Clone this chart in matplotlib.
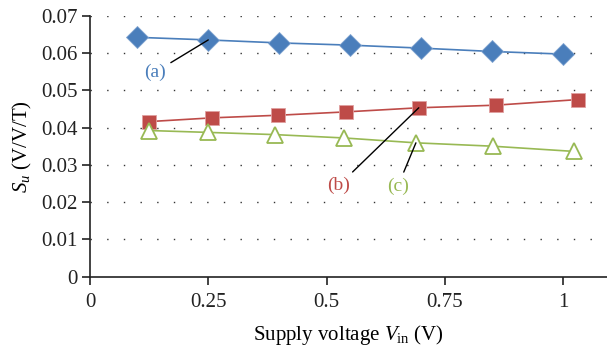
import numpy as np
import matplotlib
matplotlib.use('Agg')
import matplotlib.pyplot as plt

# Series (a): diamonds
xa = [0.10, 0.25, 0.40, 0.55, 0.70, 0.85, 1.00]
ya = [0.0642, 0.0635, 0.0627, 0.0621, 0.0613, 0.0604, 0.0597]
# Series (b): squares
xb = [0.125, 0.258, 0.398, 0.541, 0.695, 0.858, 1.031]
yb = [0.0416, 0.0426, 0.0433, 0.0442, 0.0453, 0.0460, 0.0475]
# Series (c): open triangles
xc = [0.125, 0.25, 0.392, 0.538, 0.689, 0.851, 1.023]
yc = [0.0392, 0.0387, 0.0381, 0.0372, 0.0359, 0.0350, 0.0336]

xticks = [0, 0.25, 0.5, 0.75, 1]
xticklabels = ['0', '0.25', '0.5', '0.75', '1']
yticks = [0, 0.01, 0.02, 0.03, 0.04, 0.05, 0.06, 0.07]
yticklabels = ['0', '0.01', '0.02', '0.03', '0.04', '0.05', '0.06', '0.07']

blue = '#4A7EBB'
red = '#BE4B48'
green = '#98B954'

plt.rcParams['font.family'] = 'Liberation Serif'
plt.rcParams['mathtext.fontset'] = 'custom'
plt.rcParams['mathtext.rm'] = 'Liberation Serif'
plt.rcParams['mathtext.it'] = 'Liberation Serif:italic'

fig = plt.figure(figsize=(6.07, 3.51), dpi=100)
ax = fig.add_axes([0.1483, 0.2117, 0.8517, 0.7436])

# dotted horizontal grid
for y in yticks[1:]:
    ax.axhline(y, color='#333333', linewidth=1.0, linestyle=(0, (1, 11)), zorder=0)

ax.plot(xa, ya, color=blue, linewidth=1.2, marker='D', markersize=11,
        markerfacecolor=blue, markeredgecolor='#7fa3d0', markeredgewidth=0.6, zorder=3)
ax.plot(xb, yb, color=red, linewidth=1.2, marker='s', markersize=10,
        markerfacecolor=red, markeredgecolor='#e0a0a0', markeredgewidth=0.6, zorder=3)
ax.plot(xc, yc, color=green, linewidth=1.2, marker='^', markersize=11,
        markerfacecolor='white', markeredgecolor=green, markeredgewidth=1.3, zorder=3)

arrow = dict(arrowstyle='-', color='black', linewidth=1.0, shrinkA=2, shrinkB=0)
ax.annotate('(a)', xy=(xa[1], ya[1]), xytext=(0.137, 0.0548), color=blue,
            fontsize=14, ha='center', va='center', arrowprops=arrow, zorder=4)
ax.annotate('(b)', xy=(xb[4], yb[4]), xytext=(0.526, 0.0245), color=red,
            fontsize=14, ha='center', va='center', arrowprops=arrow, zorder=4)
ax.annotate('(c)', xy=(xc[4], yc[4]), xytext=(0.651, 0.0243), color=green,
            fontsize=14, ha='center', va='center', arrowprops=arrow, zorder=4)

ax.set_xlim(0, 1.093)
ax.set_ylim(0, 0.07)
ax.set_xticks(xticks)
ax.set_xticklabels(xticklabels)
ax.set_yticks(yticks)
ax.set_yticklabels(yticklabels)
ax.tick_params(axis='both', direction='out', length=6, width=1.2, labelsize=15,
               colors='#222222')
ax.tick_params(axis='x', pad=6)
ax.tick_params(axis='y', pad=3)

for s in ['top', 'right']:
    ax.spines[s].set_visible(False)
for s in ['left', 'bottom']:
    ax.spines[s].set_linewidth(1.2)
    ax.spines[s].set_color('#222222')

ax.set_ylabel('$S_u$ (V/V/T)', fontsize=15, labelpad=5)
ax.set_xlabel('Supply voltage $V_{\\rm in}$ (V)', fontsize=15, labelpad=8)

fig.savefig('out.png', dpi=100)
